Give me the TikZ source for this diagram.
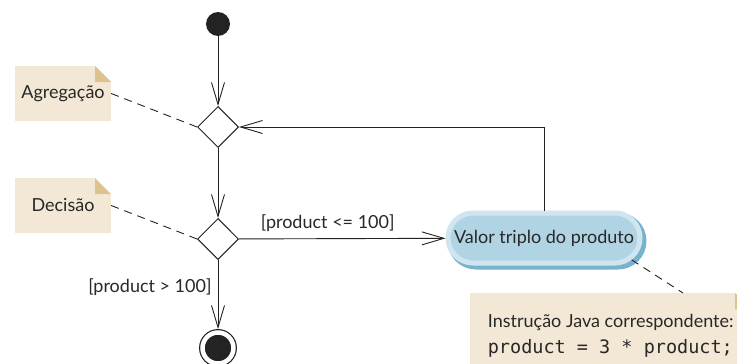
\documentclass[tikz,border=0pt]{standalone}
\usepackage{fontspec}
\setmainfont{Lato}
\setmonofont{DejaVu Sans Mono}
\usetikzlibrary{arrows.meta,positioning,shapes.geometric,shapes.misc}

\begin{document}
\begin{tikzpicture}[x=1pt,y=-1pt,
    flow/.style={draw=linegray, line width=0.9pt, -{Straight Barb[length=22pt,width=13pt]}},
    anchorline/.style={draw=linegray, line width=0.9pt, dash pattern=on 8pt off 6pt},
    choice/.style={diamond, draw=linegray, line width=1pt, fill=white, inner sep=0pt, minimum size=41pt},
    note/.style={rectangle, fill=notebg, text=textgray, inner sep=0pt, font=\fontsize{18}{22}\selectfont,
        path picture={
            \fill[white] ([xshift=-16pt]path picture bounding box.north east) -- (path picture bounding box.north east) -- ([yshift=-16pt]path picture bounding box.north east) -- cycle;
            \fill[notefold] ([xshift=-16pt]path picture bounding box.north east) -- ([xshift=-16pt,yshift=-16pt]path picture bounding box.north east) -- ([yshift=-16pt]path picture bounding box.north east) -- cycle;}},
    actbox/.style={rounded rectangle, minimum width=192pt, minimum height=50pt, inner sep=0pt,
        fill=pillin, draw=pillhi, line width=5pt, text=textgray, font=\fontsize{18}{22}\selectfont,
        preaction={draw=pilldark, line width=7pt, transform canvas={shift={(3pt,-3pt)}}}},
    guard/.style={text=textgray, font=\fontsize{18}{22}\selectfont, inner sep=0pt}
]
    % Define colors
    \definecolor{linegray}{RGB}{35,35,35}
    \definecolor{textgray}{RGB}{40,40,40}
    \definecolor{notebg}{RGB}{243,231,213}
    \definecolor{notefold}{RGB}{222,194,142}
    \definecolor{pillin}{RGB}{176,212,228}
    \definecolor{pillhi}{RGB}{208,229,239}
    \definecolor{pilldark}{RGB}{120,179,206}

    \fill[white] (0,0) rectangle (737,364);
    \useasboundingbox (0,0) rectangle (737,364);
    \clip (0,0) rectangle (737,364);

    % Draw nodes
    \node[circle, fill=linegray, inner sep=0pt, minimum size=24pt] (start) at (218,24) {};
    \node[choice] (merge) at (218,127) {};
    \node[choice] (decide) at (218,239) {};
    \node[actbox] (triple) at (544,238) {Valor triplo do produto};
    \node[circle, fill=linegray, draw=linegray, line width=1.2pt, double=white, double distance=4.5pt,
        inner sep=0pt, minimum size=31pt, outer sep=3.5pt] (stop) at (218,348) {};

    % Notes
    \node[note, minimum width=96pt, minimum height=55pt] (mergenote) at (63,93.5) {Agregação};
    \node[note, minimum width=96pt, minimum height=55pt] (decidenote) at (63,205.5) {Decisão};
    \node[note, anchor=north west, minimum width=281pt, minimum height=86pt, align=left] (javanote) at (470,293)
        {Instrução Java correspondente:\\[4pt]{\fontsize{18.5}{22}\ttfamily product = 3 * product;}};

    % Draw arrows
    \draw[flow] (start) -- (merge);
    \draw[flow] (merge) -- (decide);
    \draw[flow] (decide) -- (triple) node[guard, pos=0.43, above=7pt] {[product <= 100]};
    \draw[flow] (triple.north) |- (merge.east);
    \draw[flow] (decide) -- (stop) node[guard, pos=0.39, left=6pt] {[product > 100]};

    % Note links
    \draw[anchorline] (mergenote.east) -- (merge.west);
    \draw[anchorline] (decidenote.east) -- (decide.west);
    \draw[anchorline] (triple.-14) -- ([xshift=213pt]javanote.north west);
\end{tikzpicture}
\end{document}
